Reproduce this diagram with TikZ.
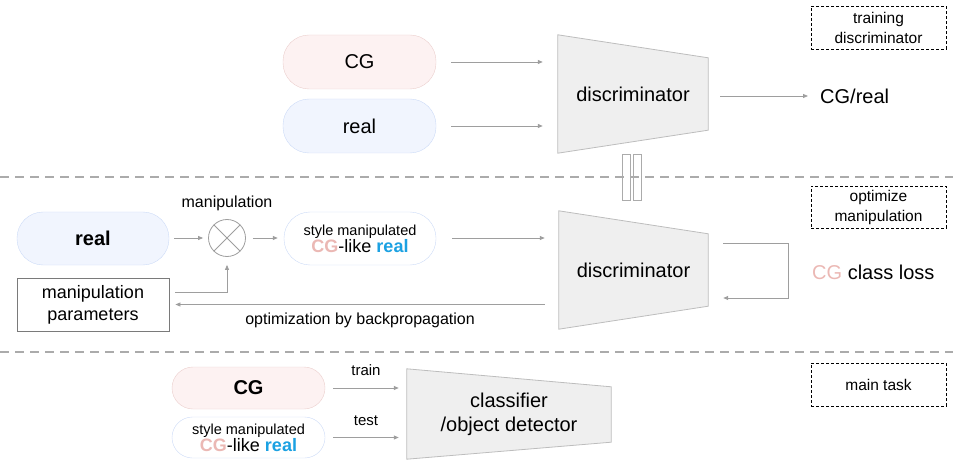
\documentclass[tikz,border=0pt]{standalone}
\usepackage{fontspec}
\setmainfont{Liberation Sans}
\usetikzlibrary{arrows.meta,backgrounds}
\definecolor{cgfill}{HTML}{FDF2F2}
\definecolor{cgdraw}{HTML}{EBCFCD}
\definecolor{realfill}{HTML}{F1F5FE}
\definecolor{realdraw}{HTML}{CCDBF7}
\definecolor{cgtext}{HTML}{EBB8B4}
\definecolor{realtext}{HTML}{1BA1E2}
\definecolor{trapfill}{HTML}{EFEFEF}
\definecolor{trapdraw}{HTML}{BDBDBD}
\definecolor{arrgray}{HTML}{9E9E9E}
\definecolor{sepgray}{HTML}{ABABAB}
\definecolor{boxgray}{HTML}{7A7A7A}
\tikzset{
  lbl/.style={font=\fontsize{20}{24}\selectfont, inner sep=0pt},
  mid/.style={font=\fontsize{16}{19}\selectfont, inner sep=0pt},
  pill/.style={rounded corners=#1, inner sep=0pt, minimum width=153pt, align=center},
  cgpill/.style={pill=#1, draw=cgdraw, fill=cgfill},
  realpill/.style={pill=#1, draw=realdraw, fill=realfill},
  stypill/.style={pill=#1, draw=realdraw, fill=white},
  arr/.style={draw=arrgray, line width=0.8pt, -{Triangle[length=5pt,width=4pt]}},
  dbox/.style={draw=black, dash pattern=on 3pt off 2pt, line width=0.7pt, minimum width=135pt, align=center, inner sep=0pt, font=\fontsize{15.5}{20}\selectfont},
  sepline/.style={draw=sepgray, line width=2pt, dash pattern=on 9pt off 6pt},
  trap/.style={draw=trapdraw, fill=trapfill, line width=0.8pt},
  bar/.style={draw=sepgray, line width=1pt, minimum width=8.5pt, minimum height=46pt, inner sep=0pt},
  tbox/.style={inner sep=0pt, align=center},
}
\newcommand{\stytext}{{\fontsize{14.5}{20}\selectfont style manipulated}\\{\fontsize{18}{20}\selectfont\textbf{\textcolor{cgtext}{CG}}-like \textbf{\textcolor{realtext}{real}}}}
\begin{document}
\begin{tikzpicture}[x=1pt,y=-1pt]
\useasboundingbox (0,0) rectangle (953,465);
% ---------- top section ----------
\node[cgpill=26pt, minimum height=54pt, lbl] (cg1) at (359.5,62) {CG};
\node[realpill=26pt, minimum height=54pt, lbl] (real1) at (359.5,126) {real};
\node[tbox, minimum width=150pt, minimum height=118pt, lbl] (d1) at (633,94) {discriminator};
\node[lbl, anchor=west] (out1) at (820,96) {CG/real};
\node[dbox, minimum height=43pt] (tb) at (878.5,27.5) {training\\discriminator};
\begin{scope}[on background layer]
\draw[trap] (d1.north west) -- ([yshift=-23pt]d1.north east) -- ([yshift=23pt]d1.south east) -- (d1.south west) -- cycle;
\end{scope}
\draw[arr, shorten <=15pt, shorten >=15pt] (cg1.east) -- (cg1.east -| d1.west);
\draw[arr, shorten <=15pt, shorten >=15pt] (real1.east) -- (real1.east -| d1.west);
\draw[arr, shorten <=12pt, shorten >=12pt] (out1.west -| d1.east) -- (out1.west);
% separators
\coordinate (s1a) at (0,177);
\coordinate (s1b) at (953,177);
\coordinate (s2a) at (0,352);
\coordinate (s2b) at (953,352);
\draw[sepline] (s1a) -- (s1b);
\draw[sepline] (s2a) -- (s2b);
\node[bar, draw] (p1) at (626.25,178) {};
\node[bar, draw] (p2) at (637.25,178) {};
% ---------- middle section ----------
\node[realpill=26pt, minimum width=152pt, minimum height=53pt, lbl] (real2) at (93,238.5) {\textbf{real}};
\node[circle, draw=arrgray, line width=0.8pt, minimum size=37pt, inner sep=0pt] (mul) at (227,238) {};
\draw[arrgray, line width=0.8pt] (mul.north west) -- (mul.south east);
\draw[arrgray, line width=0.8pt] (mul.north east) -- (mul.south west);
\node[mid] (mlab) at (227,203) {manipulation};
\node[stypill=26pt, minimum width=152pt, minimum height=53pt] (sty) at (360,238.5) {\stytext};
\node[tbox, minimum width=149pt, minimum height=118pt, lbl] (d2) at (633.5,270) {discriminator};
\begin{scope}[on background layer]
\draw[trap] (d2.north west) -- ([yshift=-23pt]d2.north east) -- ([yshift=23pt]d2.south east) -- (d2.south west) -- cycle;
\end{scope}
\node[draw=boxgray, line width=0.8pt, minimum width=152pt, minimum height=53pt, inner sep=0pt, align=center, font=\fontsize{18}{22}\selectfont] (par) at (93,304.5) {manipulation\\parameters};
\node[mid] (bp) at (360,320) {optimization by backpropagation};
\node[lbl, anchor=west] (loss) at (812,272) {\textcolor{cgtext}{CG} class loss};
\node[dbox, minimum height=42pt] (ob) at (878.5,207) {optimize\\manipulation};
\draw[arr, shorten <=5pt, shorten >=5pt] (real2.east |- mul.west) -- (mul.west);
\draw[arr, shorten <=7pt, shorten >=6pt] (mul.east) -- (mul.east -| sty.west);
\draw[arr, shorten <=16pt, shorten >=14pt] (sty.east |- mul.east) -- (mul.east -| d2.west);
\draw[arr, shorten <=6pt, shorten >=8pt] ([yshift=12.5pt]par.east) -| (mul.south);
\draw[arr, shorten <=14pt, shorten >=6pt] (par.east -| d2.west) -- (par.east);
\draw[arr, shorten <=15pt, shorten >=15pt] ([yshift=27pt]d2.east) -- ++(80pt,0) |- ([yshift=-28pt]d2.east);
% ---------- bottom section ----------
\node[cgpill=21pt, minimum height=42pt, lbl] (cg3) at (248.5,388) {\textbf{CG}};
\node[stypill=20.5pt, minimum height=41pt] (sty3) at (248.5,437.5) {\stytext};
\node[tbox, minimum width=204pt, minimum height=90pt, lbl, align=center] (cls) at (509,414) {classifier\\/object detector};
\begin{scope}[on background layer]
\draw[trap] (cls.north west) -- ([yshift=-18pt]cls.north east) -- ([yshift=17pt]cls.south east) -- (cls.south west) -- cycle;
\end{scope}
\node[mid, font=\fontsize{15}{18}\selectfont] (trn) at (366,370) {train};
\node[mid, font=\fontsize{15}{18}\selectfont] (tst) at (366,421) {test};
\draw[arr, shorten <=8pt, shorten >=8pt] (cg3.east) -- (cg3.east -| cls.west);
\draw[arr, shorten <=8pt, shorten >=8pt] (sty3.east) -- (sty3.east -| cls.west);
\node[dbox, minimum height=43pt] (mt) at (878.5,384.5) {main task};
\end{tikzpicture}
\end{document}
